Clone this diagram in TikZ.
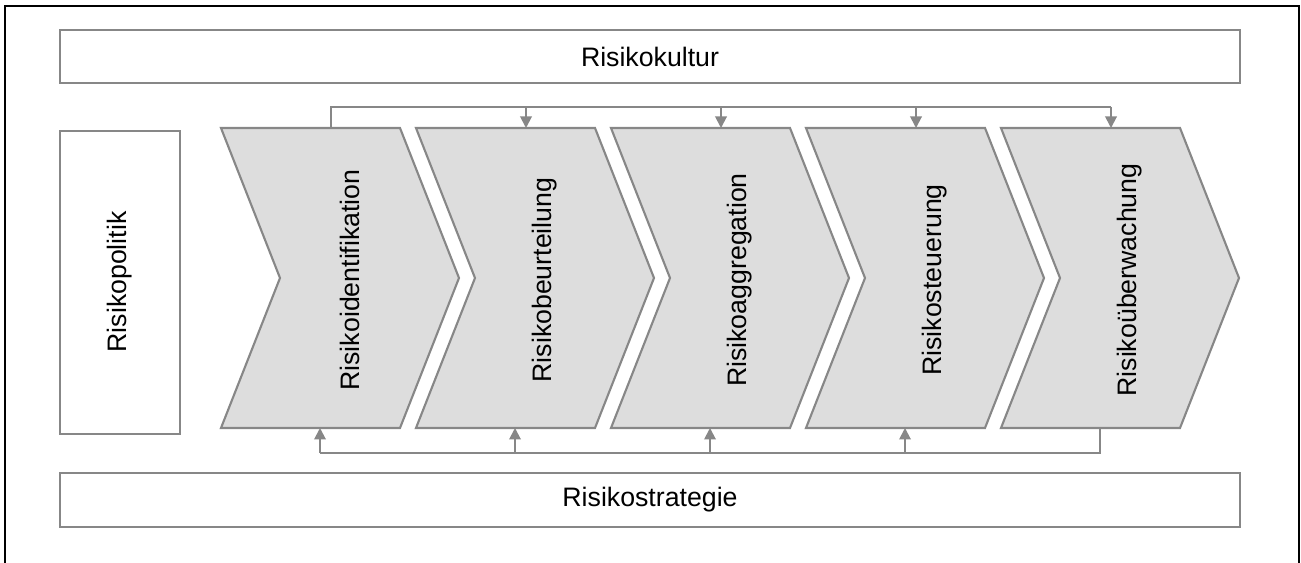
\documentclass[tikz,border=0pt]{standalone}
\usepackage{fontspec}
\setmainfont{Liberation Sans}
\usetikzlibrary{arrows.meta}
\definecolor{edgegray}{RGB}{135,135,135}
\definecolor{stepfill}{RGB}{221,221,221}
\begin{document}
\begin{tikzpicture}[x=0.02cm,y=-0.02cm,
  every node/.style={font=\fontsize{15.2}{18}\selectfont},
  framebox/.style={draw=edgegray,line width=1.6pt,fill=white},
  chevron/.style={draw=edgegray,line width=1.2pt,fill=stepfill,line join=miter},
  conn/.style={draw=edgegray,line width=1.1pt},
  arr/.style={conn,-{Triangle[length=0.23cm,width=0.23cm]}},
  steplabel/.style={rotate=90,inner sep=0pt}]
\useasboundingbox (0,0) rectangle (1301,563);
% outer frame (open at the bottom)
\draw[black,line width=1.2pt] (5,563) -- (5,6) -- (1299,6) -- (1299,563);

% framing bands
\draw[framebox] (60,30) rectangle (1240,83);
\node (kultur) at (650,57) {Risikokultur};
\draw[framebox] (60,473) rectangle (1240,527);
\node (strategie) at (650,500) {Risikostrategie};
\draw[framebox] (60,131) rectangle (180,434);
\node[steplabel] (politik) at (120,282) {Risikopolitik};

% process chevrons
\foreach \i/\txt in {1/Risikoidentifikation,2/Risikobeurteilung,3/Risikoaggregation,4/Risikosteuerung,5/Risikoüberwachung}{
  \pgfmathsetmacro{\X}{221+195*(\i-1)}
  \draw[chevron] (\X,128) -- ++(179,0) -- ++(59,150) -- ++(-59,150) -- ++(-179,0) -- ++(59,-150) -- cycle;
  \node[steplabel] (s\i) at (\X+129,280) {\txt};
  \coordinate (t\i) at (\X+110,128);
  \coordinate (b\i) at (\X+99,428);
}

\coordinate (topline) at (0,107);
\coordinate (botline) at (0,453);

% feed-forward from identification to later steps
\draw[conn] (t1) -- (t1 |- topline) -- (t5 |- topline);
\foreach \i in {2,...,5}{
  \draw[arr] (t\i |- topline) -- (t\i);
}
% feedback from monitoring to earlier steps
\draw[conn] (b5) -- (b5 |- botline) -- (b1 |- botline);
\foreach \i in {1,...,4}{
  \draw[arr] (b\i |- botline) -- (b\i);
}
\end{tikzpicture}
\end{document}
